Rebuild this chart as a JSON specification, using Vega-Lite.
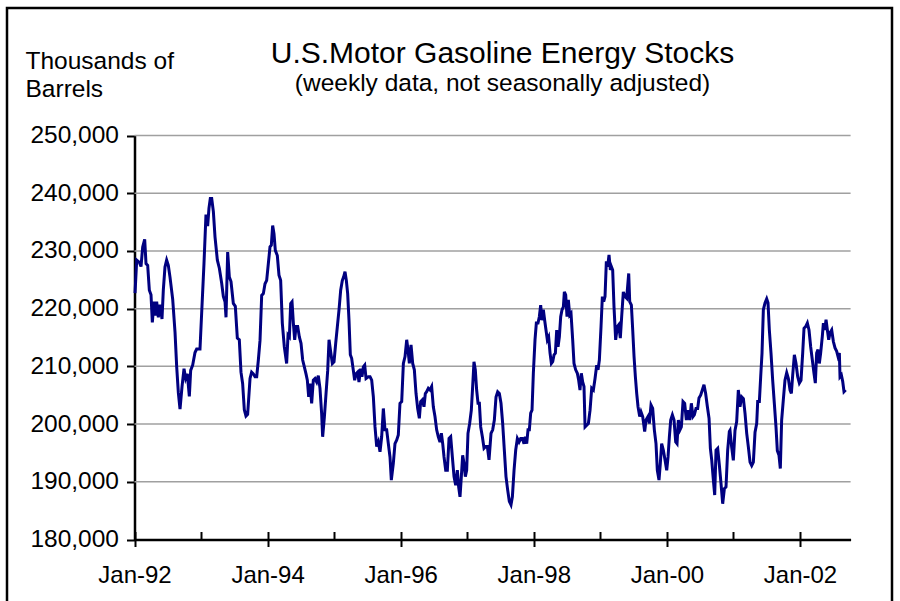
{
 "$schema": "https://vega.github.io/schema/vega-lite/v6.json",
 "width": 885,
 "height": 600,
 "autosize": {"type": "none"},
 "padding": {"left": 7, "top": 8, "right": 8, "bottom": 0},
 "background": "white",
 "config": {"view": {"stroke": "black", "strokeWidth": 2.5}, "font": "Liberation Sans"},
 "title": {
  "text": "U.S.Motor Gasoline Energy Stocks",
  "subtitle": "(weekly data, not seasonally adjusted)",
  "anchor": "middle",
  "frame": "group",
  "offset": -87,
  "dx": 53,
  "font": "Liberation Sans",
  "fontSize": 30,
  "fontWeight": "normal",
  "color": "black",
  "subtitleFont": "Liberation Sans",
  "subtitleFontSize": 24.5,
  "subtitleColor": "black",
  "subtitlePadding": 3
 },
 "datasets": {
  "grid": [{"v":190000},{"v":200000},{"v":210000},{"v":220000},{"v":230000},{"v":240000},{"v":250000}],
  "stocks": [
{"t":1992.008,"v":222700},{"t":1992.033,"v":228400},{"t":1992.073,"v":228000},{"t":1992.098,"v":227300},{"t":1992.123,"v":230700},{"t":1992.153,"v":232000},{"t":1992.173,"v":227800},{"t":1992.198,"v":227500},{"t":1992.223,"v":223200},{"t":1992.248,"v":222400},{"t":1992.268,"v":217600},{"t":1992.293,"v":221200},{"t":1992.318,"v":218800},{"t":1992.333,"v":221200},{"t":1992.358,"v":218500},{"t":1992.383,"v":220700},{"t":1992.413,"v":218200},{"t":1992.433,"v":223200},{"t":1992.458,"v":227200},{"t":1992.483,"v":228400},{"t":1992.508,"v":227500},{"t":1992.533,"v":225500},{"t":1992.574,"v":221600},{"t":1992.609,"v":215900},{"t":1992.634,"v":209900},{"t":1992.659,"v":205400},{"t":1992.684,"v":202600},{"t":1992.714,"v":206500},{"t":1992.744,"v":209600},{"t":1992.769,"v":207900},{"t":1992.794,"v":208700},{"t":1992.824,"v":204800},{"t":1992.844,"v":209300},{"t":1992.874,"v":210200},{"t":1992.909,"v":212400},{"t":1992.934,"v":213000},{"t":1992.959,"v":213000},{"t":1992.984,"v":213000},{"t":1993.009,"v":219200},{"t":1993.044,"v":227800},{"t":1993.074,"v":236300},{"t":1993.099,"v":234300},{"t":1993.119,"v":237400},{"t":1993.139,"v":239100},{"t":1993.160,"v":239100},{"t":1993.185,"v":236800},{"t":1993.210,"v":232400},{"t":1993.245,"v":228400},{"t":1993.275,"v":227000},{"t":1993.310,"v":224400},{"t":1993.335,"v":222100},{"t":1993.360,"v":221200},{"t":1993.375,"v":218500},{"t":1993.400,"v":229800},{"t":1993.425,"v":225500},{"t":1993.450,"v":224700},{"t":1993.485,"v":220900},{"t":1993.515,"v":220400},{"t":1993.545,"v":214900},{"t":1993.575,"v":214600},{"t":1993.600,"v":209000},{"t":1993.625,"v":207000},{"t":1993.650,"v":202500},{"t":1993.675,"v":201400},{"t":1993.700,"v":201700},
{"t":1993.736,"v":207900},{"t":1993.760,"v":209000},{"t":1993.786,"v":208700},{"t":1993.811,"v":208200},{"t":1993.836,"v":208200},{"t":1993.861,"v":211100},{"t":1993.886,"v":214500},{"t":1993.911,"v":222300},{"t":1993.936,"v":222600},{"t":1993.961,"v":224300},{"t":1993.986,"v":224900},{"t":1994.011,"v":227800},{"t":1994.036,"v":230700},{"t":1994.056,"v":231000},{"t":1994.076,"v":234400},{"t":1994.096,"v":233000},{"t":1994.116,"v":230100},{"t":1994.146,"v":229200},{"t":1994.171,"v":225800},{"t":1994.196,"v":224900},{"t":1994.221,"v":217500},{"t":1994.251,"v":213400},{"t":1994.286,"v":210500},{"t":1994.307,"v":215400},{"t":1994.327,"v":215100},{"t":1994.347,"v":220900},{"t":1994.367,"v":221200},{"t":1994.387,"v":217500},{"t":1994.407,"v":214600},{"t":1994.427,"v":216900},{"t":1994.452,"v":216900},{"t":1994.477,"v":215100},{"t":1994.502,"v":214000},{"t":1994.527,"v":211100},{"t":1994.552,"v":209900},{"t":1994.577,"v":208700},{"t":1994.597,"v":207600},{"t":1994.617,"v":204700},{"t":1994.637,"v":207000},{"t":1994.662,"v":203600},{"t":1994.687,"v":207600},{"t":1994.712,"v":207900},{"t":1994.737,"v":207300},{"t":1994.762,"v":208400},{"t":1994.787,"v":206200},{"t":1994.812,"v":201800},{"t":1994.827,"v":197800},{"t":1994.853,"v":201200},{"t":1994.878,"v":205300},{"t":1994.903,"v":209300},{"t":1994.923,"v":214600},{"t":1994.948,"v":212500},{"t":1994.973,"v":210500},{"t":1994.998,"v":210800},{"t":1995.023,"v":214000},{"t":1995.048,"v":216900},{"t":1995.073,"v":219800},{"t":1995.098,"v":223200},{"t":1995.123,"v":224900},{"t":1995.143,"v":225500},{"t":1995.163,"v":226400},{"t":1995.183,"v":224900},{"t":1995.203,"v":222600},{"t":1995.223,"v":218000},{"t":1995.243,"v":212000},{"t":1995.263,"v":211400},{"t":1995.288,"v":209300},{"t":1995.308,"v":207600},{"t":1995.328,"v":208700},{"t":1995.353,"v":209000},{"t":1995.373,"v":207300},{"t":1995.398,"v":209600},{"t":1995.418,"v":208200},{"t":1995.439,"v":209900},{"t":1995.459,"v":210200},{"t":1995.479,"v":207900},{"t":1995.514,"v":208200},
{"t":1995.539,"v":208200},{"t":1995.564,"v":207600},{"t":1995.589,"v":204700},{"t":1995.614,"v":199500},{"t":1995.639,"v":196100},{"t":1995.664,"v":196900},{"t":1995.689,"v":195200},{"t":1995.714,"v":197800},{"t":1995.739,"v":202700},{"t":1995.764,"v":199000},{"t":1995.789,"v":199000},{"t":1995.814,"v":196600},{"t":1995.839,"v":194300},{"t":1995.859,"v":190300},{"t":1995.889,"v":193200},{"t":1995.914,"v":196600},{"t":1995.939,"v":197200},{"t":1995.964,"v":198100},{"t":1995.989,"v":203600},{"t":1996.015,"v":203900},{"t":1996.040,"v":210500},{"t":1996.065,"v":211700},{"t":1996.090,"v":214600},{"t":1996.110,"v":212800},{"t":1996.130,"v":210500},{"t":1996.155,"v":213700},{"t":1996.180,"v":210500},{"t":1996.205,"v":209400},{"t":1996.230,"v":205300},{"t":1996.255,"v":202700},{"t":1996.280,"v":201000},{"t":1996.300,"v":203900},{"t":1996.325,"v":204200},{"t":1996.350,"v":203000},{"t":1996.370,"v":205300},{"t":1996.390,"v":205600},{"t":1996.415,"v":206200},{"t":1996.440,"v":205900},{"t":1996.465,"v":206500},{"t":1996.490,"v":203000},{"t":1996.515,"v":201300},{"t":1996.540,"v":199000},{"t":1996.565,"v":197800},{"t":1996.590,"v":196900},{"t":1996.611,"v":198400},{"t":1996.631,"v":196600},{"t":1996.651,"v":194300},{"t":1996.676,"v":192000},{"t":1996.701,"v":192000},{"t":1996.726,"v":197500},{"t":1996.751,"v":197800},{"t":1996.776,"v":194300},{"t":1996.801,"v":190900},{"t":1996.826,"v":189400},{"t":1996.851,"v":192000},{"t":1996.871,"v":189100},{"t":1996.891,"v":187400},{"t":1996.911,"v":190900},{"t":1996.931,"v":194600},{"t":1996.951,"v":193200},{"t":1996.971,"v":190900},{"t":1996.991,"v":192000},{"t":1997.011,"v":198400},{"t":1997.036,"v":200100},{"t":1997.061,"v":202400},{"t":1997.081,"v":206500},{"t":1997.101,"v":210800},{"t":1997.121,"v":209400},{"t":1997.141,"v":205900},{"t":1997.162,"v":203600},{"t":1997.182,"v":203600},{"t":1997.202,"v":199500},{"t":1997.227,"v":197800},{"t":1997.252,"v":195800},{"t":1997.277,"v":196100},{"t":1997.302,"v":196100},{"t":1997.327,"v":193800},
{"t":1997.357,"v":198400},{"t":1997.382,"v":199000},{"t":1997.407,"v":200700},{"t":1997.432,"v":204700},{"t":1997.457,"v":205600},{"t":1997.482,"v":205300},{"t":1997.507,"v":203600},{"t":1997.532,"v":200100},{"t":1997.557,"v":195500},{"t":1997.582,"v":190900},{"t":1997.607,"v":188600},{"t":1997.632,"v":186600},{"t":1997.657,"v":186000},{"t":1997.678,"v":187400},{"t":1997.703,"v":192000},{"t":1997.728,"v":195500},{"t":1997.753,"v":197500},{"t":1997.778,"v":196900},{"t":1997.803,"v":197500},{"t":1997.828,"v":197500},{"t":1997.853,"v":196600},{"t":1997.873,"v":197800},{"t":1997.893,"v":196600},{"t":1997.913,"v":199000},{"t":1997.933,"v":199000},{"t":1997.953,"v":201900},{"t":1997.973,"v":202400},{"t":1997.993,"v":208800},{"t":1998.018,"v":214600},{"t":1998.038,"v":217500},{"t":1998.063,"v":217500},{"t":1998.083,"v":218600},{"t":1998.103,"v":220600},{"t":1998.123,"v":218000},{"t":1998.143,"v":219800},{"t":1998.163,"v":218000},{"t":1998.183,"v":216300},{"t":1998.203,"v":214600},{"t":1998.223,"v":215100},{"t":1998.244,"v":212300},{"t":1998.264,"v":210500},{"t":1998.284,"v":210800},{"t":1998.304,"v":212000},{"t":1998.324,"v":212300},{"t":1998.344,"v":216300},{"t":1998.364,"v":213400},{"t":1998.384,"v":215100},{"t":1998.404,"v":218600},{"t":1998.424,"v":219800},{"t":1998.444,"v":220300},{"t":1998.459,"v":222900},{"t":1998.479,"v":222400},{"t":1998.499,"v":218600},{"t":1998.519,"v":221500},{"t":1998.539,"v":218900},{"t":1998.559,"v":219200},{"t":1998.584,"v":214600},{"t":1998.604,"v":210500},{"t":1998.629,"v":209400},{"t":1998.654,"v":208800},{"t":1998.674,"v":207600},{"t":1998.694,"v":205900},{"t":1998.714,"v":208800},{"t":1998.734,"v":207300},{"t":1998.754,"v":206500},{"t":1998.770,"v":199500},{"t":1998.795,"v":199800},{"t":1998.820,"v":200100},{"t":1998.845,"v":202400},{"t":1998.870,"v":206200},{"t":1998.895,"v":205900},{"t":1998.920,"v":207900},{"t":1998.945,"v":210200},{"t":1998.965,"v":209400},{"t":1998.985,"v":211100},{"t":1999.010,"v":216900},{"t":1999.030,"v":222100},{"t":1999.050,"v":221200},{"t":1999.070,"v":222100},{"t":1999.090,"v":228200},{"t":1999.110,"v":227300},{"t":1999.130,"v":229300},{"t":1999.150,"v":226700},
{"t":1999.165,"v":227300},{"t":1999.185,"v":226700},{"t":1999.205,"v":220300},{"t":1999.230,"v":214600},{"t":1999.255,"v":216900},{"t":1999.275,"v":217200},{"t":1999.300,"v":214900},{"t":1999.320,"v":218600},{"t":1999.345,"v":222900},{"t":1999.370,"v":222100},{"t":1999.395,"v":221800},{"t":1999.426,"v":226100},{"t":1999.441,"v":221200},{"t":1999.466,"v":220600},{"t":1999.486,"v":216300},{"t":1999.506,"v":211700},{"t":1999.526,"v":208200},{"t":1999.546,"v":205300},{"t":1999.566,"v":203000},{"t":1999.591,"v":201300},{"t":1999.611,"v":202100},{"t":1999.636,"v":201300},{"t":1999.666,"v":198700},{"t":1999.686,"v":200700},{"t":1999.716,"v":201300},{"t":1999.736,"v":200100},{"t":1999.761,"v":203300},{"t":1999.786,"v":202700},{"t":1999.811,"v":199000},{"t":1999.836,"v":196600},{"t":1999.856,"v":192000},{"t":1999.881,"v":190300},{"t":1999.901,"v":193200},{"t":1999.921,"v":196600},{"t":1999.946,"v":195500},{"t":1999.971,"v":193800},{"t":1999.997,"v":192000},{"t":2000.017,"v":194300},{"t":2000.037,"v":197800},{"t":2000.057,"v":200700},{"t":2000.082,"v":201600},{"t":2000.107,"v":200700},{"t":2000.132,"v":196900},{"t":2000.152,"v":196600},{"t":2000.172,"v":200700},{"t":2000.197,"v":199000},{"t":2000.217,"v":199500},{"t":2000.242,"v":203900},{"t":2000.267,"v":203600},{"t":2000.292,"v":200700},{"t":2000.317,"v":202400},{"t":2000.342,"v":200700},{"t":2000.367,"v":203600},{"t":2000.392,"v":201300},{"t":2000.412,"v":201600},{"t":2000.437,"v":202700},{"t":2000.462,"v":202700},{"t":2000.482,"v":204500},{"t":2000.507,"v":205000},{"t":2000.532,"v":205900},{"t":2000.557,"v":206800},{"t":2000.582,"v":205300},{"t":2000.608,"v":203000},{"t":2000.633,"v":201000},{"t":2000.653,"v":195800},{"t":2000.673,"v":193800},{"t":2000.698,"v":190300},{"t":2000.718,"v":187700},{"t":2000.738,"v":195500},{"t":2000.763,"v":195800},{"t":2000.788,"v":192900},{"t":2000.813,"v":189700},{"t":2000.838,"v":186200},{"t":2000.863,"v":188800},{"t":2000.888,"v":189100},{"t":2000.913,"v":195500},{"t":2000.938,"v":198700},
{"t":2000.948,"v":198900},{"t":2000.973,"v":196000},{"t":2000.998,"v":193700},{"t":2001.023,"v":198900},{"t":2001.048,"v":200400},{"t":2001.073,"v":205900},{"t":2001.098,"v":203000},{"t":2001.124,"v":204700},{"t":2001.149,"v":204400},{"t":2001.174,"v":201800},{"t":2001.199,"v":198400},{"t":2001.224,"v":196000},{"t":2001.249,"v":193400},{"t":2001.274,"v":192800},{"t":2001.299,"v":193400},{"t":2001.324,"v":198600},{"t":2001.349,"v":200100},{"t":2001.364,"v":203900},{"t":2001.389,"v":203900},{"t":2001.409,"v":208200},{"t":2001.429,"v":212300},{"t":2001.449,"v":219800},{"t":2001.474,"v":221000},{"t":2001.499,"v":221700},{"t":2001.519,"v":221000},{"t":2001.539,"v":216300},{"t":2001.564,"v":212300},{"t":2001.589,"v":207600},{"t":2001.614,"v":203600},{"t":2001.639,"v":199500},{"t":2001.659,"v":195400},{"t":2001.684,"v":194600},{"t":2001.704,"v":192300},{"t":2001.724,"v":200700},{"t":2001.749,"v":204200},{"t":2001.774,"v":207600},{"t":2001.800,"v":208900},{"t":2001.825,"v":207900},{"t":2001.850,"v":205900},{"t":2001.870,"v":205300},{"t":2001.890,"v":208500},{"t":2001.915,"v":212000},{"t":2001.940,"v":210500},{"t":2001.965,"v":208200},{"t":2001.990,"v":207100},{"t":2002.015,"v":207600},{"t":2002.040,"v":212300},{"t":2002.060,"v":216600},{"t":2002.085,"v":216900},{"t":2002.110,"v":217500},{"t":2002.135,"v":216300},{"t":2002.160,"v":213400},{"t":2002.185,"v":211100},{"t":2002.210,"v":208800},{"t":2002.230,"v":207100},{"t":2002.250,"v":212300},{"t":2002.270,"v":212900},{"t":2002.290,"v":210500},{"t":2002.310,"v":212300},{"t":2002.335,"v":215200},{"t":2002.351,"v":217500},{"t":2002.371,"v":216300},{"t":2002.391,"v":218100},{"t":2002.411,"v":216300},{"t":2002.431,"v":214600},{"t":2002.451,"v":215800},{"t":2002.476,"v":216300},{"t":2002.501,"v":214300},{"t":2002.526,"v":213200},{"t":2002.551,"v":212600},{"t":2002.571,"v":211700},{"t":2002.591,"v":212300},{"t":2002.601,"v":208200},{"t":2002.621,"v":208500},{"t":2002.641,"v":207400},{"t":2002.661,"v":205600},{"t":2002.686,"v":205900}
  ]
 },
 "resolve": {"axis": {"x": "independent"}},
 "layer": [
  {
   "data": {"name": "grid"},
   "mark": {"type": "rule", "color": "#a0a0a0", "strokeWidth": 1.5},
   "encoding": {
    "x": {"datum": 1992, "type": "quantitative",
     "scale": {"domain": [1992, 2002.76], "range": [127.5, 843.6], "nice": false, "zero": false},
     "axis": {"orient": "top", "offset": -531.5, "values": [1992,1993,1994,1995,1996,1997,1998,1999,2000,2001,2002], "labels": false, "domain": false, "title": null, "grid": false, "tickColor": "black", "tickWidth": 2, "tickSize": 8}},
    "x2": {"datum": 2002.76},
    "y": {"field": "v", "type": "quantitative",
     "scale": {"domain": [180000, 250000], "range": [531.5, 127.5], "nice": false, "zero": false},
     "axis": {"orient": "left", "offset": -127.5, "values": [180000,190000,200000,210000,220000,230000,240000,250000], "format": ",d", "grid": false,
      "title": ["Thousands of", "Barrels"], "titleAngle": 0, "titleAlign": "left", "titleBaseline": "alphabetic", "titleX": -109.5, "titleY": 60, "titleFont": "Liberation Sans", "titleFontSize": 24.5, "titleFontWeight": "normal", "titleColor": "black", "titleLineHeight": 28,
      "domainColor": "black", "domainWidth": 2.5, "tickColor": "black", "tickWidth": 2, "tickSize": 8,
      "labelFont": "Liberation Sans", "labelFontSize": 24.5, "labelColor": "black", "labelPadding": 8}}
   }
  },
  {
   "data": {"name": "stocks"},
   "mark": {"type": "line", "color": "#000080", "strokeWidth": 3},
   "encoding": {
    "x": {"field": "t", "type": "quantitative",
     "axis": {"orient": "bottom", "offset": -68.5, "values": [1992,1994,1996,1998,2000,2002], "labelExpr": "'Jan-' + substring(toString(datum.value), 2, 4)", "title": null, "grid": false,
      "domainColor": "black", "domainWidth": 2.5, "tickColor": "black", "tickWidth": 2, "tickSize": 7,
      "labelFont": "Liberation Sans", "labelFontSize": 24, "labelColor": "black", "labelPadding": 17, "labelFlush": false, "labelOverlap": false}},
    "y": {"field": "v", "type": "quantitative",
     "axis": {"orient": "left", "offset": -127.5, "values": [180000,190000,200000,210000,220000,230000,240000,250000], "format": ",d", "grid": false,
      "title": ["Thousands of", "Barrels"], "titleAngle": 0, "titleAlign": "left", "titleBaseline": "alphabetic", "titleX": -109.5, "titleY": 60, "titleFont": "Liberation Sans", "titleFontSize": 24.5, "titleFontWeight": "normal", "titleColor": "black", "titleLineHeight": 28,
      "domainColor": "black", "domainWidth": 2.5, "tickColor": "black", "tickWidth": 2, "tickSize": 8,
      "labelFont": "Liberation Sans", "labelFontSize": 24.5, "labelColor": "black", "labelPadding": 8}}
   }
  }
 ]
}
